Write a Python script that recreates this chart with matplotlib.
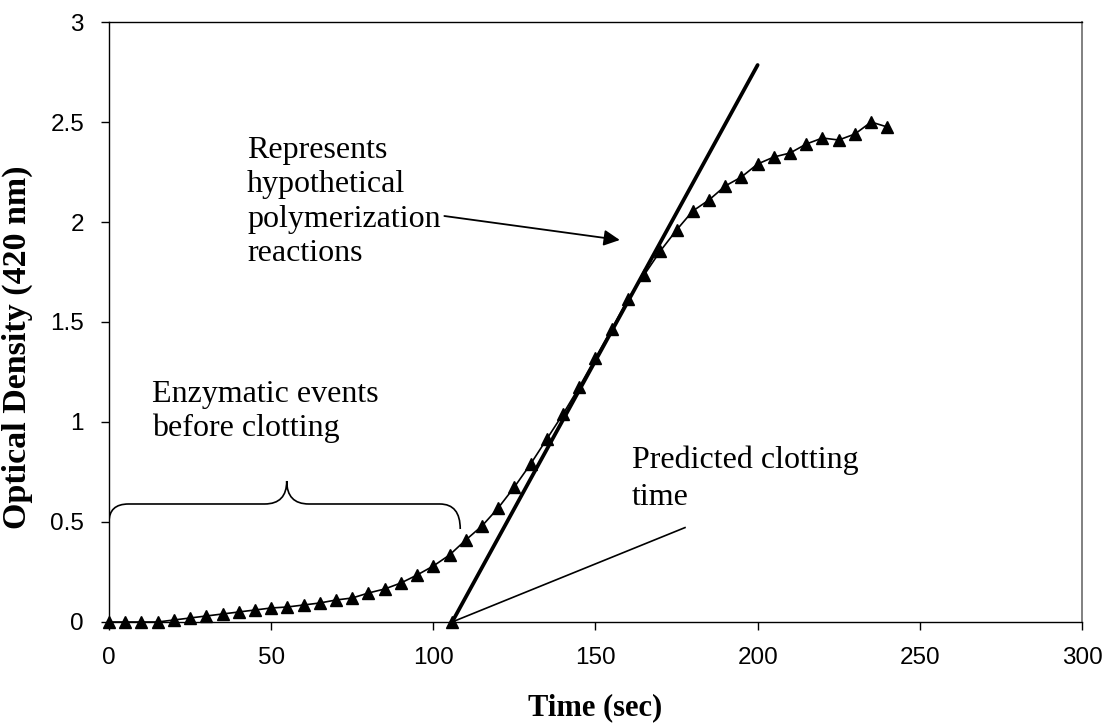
import numpy as np
import matplotlib
matplotlib.use("Agg")
import matplotlib.pyplot as plt
from matplotlib.path import Path
from matplotlib.patches import PathPatch

plt.rcParams["font.family"] = "Liberation Sans"

# Turbidity readings every 5 s
time_s = np.arange(0, 245, 5)
optical_density = [0, 0, 0, 0, 0.01, 0.02, 0.03, 0.04, 0.05, 0.06,
                   0.07, 0.075, 0.085, 0.095, 0.11, 0.12, 0.145, 0.165, 0.195, 0.235,
                   0.28, 0.335, 0.41, 0.48, 0.57, 0.675, 0.79, 0.915, 1.04, 1.175,
                   1.32, 1.465, 1.615, 1.735, 1.855, 1.96, 2.055, 2.11, 2.18, 2.225,
                   2.29, 2.325, 2.345, 2.39, 2.42, 2.41, 2.44, 2.50, 2.475]

# Linear fit of the polymerization phase, extrapolated back to OD = 0
fit_t = [105.8, 200.0]
fit_od = [0.0, 2.785]
clot_time = 105.8

# Pointer line to the clotting time label
pointer_t = [105.8, 177.6]
pointer_od = [0.0, 0.472]

x_ticks = [0, 50, 100, 150, 200, 250, 300]
y_ticks = [0, 0.5, 1, 1.5, 2, 2.5, 3]
y_ticklabels = ["0", "0.5", "1", "1.5", "2", "2.5", "3"]

serif = "Liberation Serif"

fig = plt.figure(figsize=(11.09, 7.24), dpi=100)
ax = fig.add_axes([0.0983, 0.1409, 0.8773, 0.8287])

ax.plot(time_s, optical_density, color="black", lw=1.2, marker="^",
        ms=8.5, clip_on=False, zorder=3)
ax.plot(fit_t, fit_od, color="black", lw=2.7, solid_capstyle="round", zorder=2)
ax.plot([clot_time], [0], marker="^", ms=8.5, color="black", clip_on=False, zorder=3)
ax.plot(pointer_t, pointer_od, color="black", lw=1.2, zorder=2)

# Curly brace over the lag phase
verts = [(0.0, 0.50), (0.0, 0.59), (6.0, 0.59),
         (48.0, 0.59),
         (54.8, 0.59), (54.8, 0.705),
         (54.8, 0.59), (61.6, 0.59),
         (102.0, 0.59),
         (108.3, 0.59), (108.3, 0.465)]
codes = [Path.MOVETO, Path.CURVE3, Path.CURVE3,
         Path.LINETO,
         Path.CURVE3, Path.CURVE3,
         Path.CURVE3, Path.CURVE3,
         Path.LINETO,
         Path.CURVE3, Path.CURVE3]
ax.add_patch(PathPatch(Path(verts, codes), fill=False, lw=1.2, color="black"))

ax.text(42.6, 2.43, "Represents\nhypothetical\npolymerization\nreactions",
        family=serif, fontsize=23, va="top", ha="left", linespacing=1.24)
ax.annotate("", xy=(157.5, 1.91), xytext=(103.4, 2.03),
            arrowprops=dict(arrowstyle="-|>", color="black", lw=1.3,
                            mutation_scale=24, shrinkA=0, shrinkB=0))
ax.text(13.2, 1.21, "Enzymatic events\nbefore clotting",
        family=serif, fontsize=23, va="top", ha="left", linespacing=1.2)
ax.text(161.3, 0.88, "Predicted clotting\ntime",
        family=serif, fontsize=23, va="top", ha="left", linespacing=1.36)

ax.set_xlim(0, 300)
ax.set_ylim(0, 3)
ax.set_xticks(x_ticks)
ax.set_yticks(y_ticks)
ax.set_yticklabels(y_ticklabels)
ax.tick_params(direction="out", length=6, width=1, labelsize=17.5, pad=12)

for side in ["left", "bottom", "top"]:
    ax.spines[side].set_color("black")
    ax.spines[side].set_linewidth(1.0)
ax.spines["right"].set_color("#808080")
ax.spines["right"].set_linewidth(1.4)

ax.set_xlabel("Time (sec)", family=serif, fontweight="bold", fontsize=22)
ax.set_ylabel("Optical Density (420 nm)", family=serif, fontweight="bold", fontsize=24.5)
ax.xaxis.set_label_coords(0.5, -0.118)
ax.yaxis.set_label_coords(-0.078, 0.4575)

fig.savefig("out.png", dpi=100)
